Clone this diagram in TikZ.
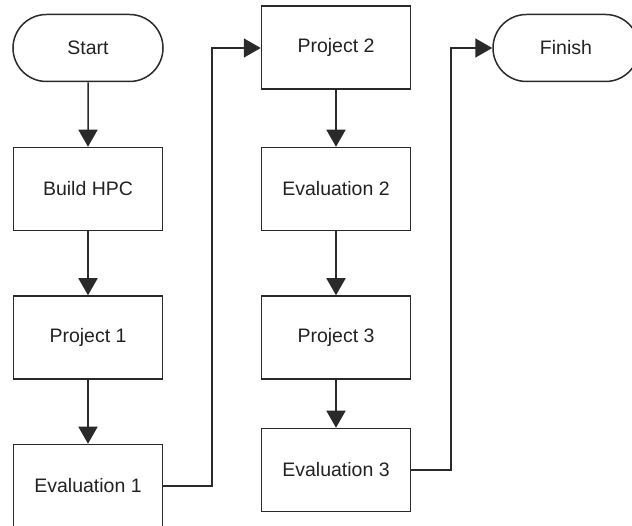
\documentclass[tikz,border=0pt]{standalone}
\usepackage{fontspec}
\setmainfont{Liberation Sans}
\usetikzlibrary{arrows.meta,shapes.misc}
\definecolor{ln}{HTML}{2A2A2A}
\definecolor{tx}{HTML}{222222}
\begin{document}
\begin{tikzpicture}[x=1pt,y=-1pt,
  box/.style={draw=ln,line width=1.5pt,minimum width=149pt,minimum height=83pt,inner sep=0pt,font=\fontsize{19.5}{21}\selectfont,text=tx},
  term/.style={draw=ln,line width=1.5pt,rounded rectangle,minimum width=150pt,minimum height=67pt,inner sep=0pt,font=\fontsize{19.5}{21}\selectfont,text=tx},
  conn/.style={draw=ln,line width=1.5pt,-{Triangle[width=19pt,length=17pt]}}]
\useasboundingbox (0,0) rectangle (632,526);
\fill[white] (0,0) rectangle (632,526);
\node[term] (start) at (88,48) {Start};
\node[box] (build) at (88,189) {Build HPC};
\node[box] (p1) at (88,337.5) {Project 1};
\node[box] (e1) at (88,486) {Evaluation 1};
\node[box] (p2) at (336,47.5) {Project 2};
\node[box] (e2) at (336,189) {Evaluation 2};
\node[box] (p3) at (336,337.5) {Project 3};
\node[box] (e3) at (336,470) {Evaluation 3};
\node[term,minimum width=146pt] (fin) at (566,48) {Finish};
\coordinate (c1a) at (212,486);
\coordinate (c1b) at (212,48);
\coordinate (c2a) at (451,470);
\coordinate (c2b) at (451,48);
\draw[conn] (start) -- (build);
\draw[conn] (build) -- (p1);
\draw[conn] (p1) -- (e1);
\draw[conn] (e1.east) -- (c1a) -- (c1b) -- (p2.west |- c1b);
\draw[conn] (p2) -- (e2);
\draw[conn] (e2) -- (p3);
\draw[conn] (p3) -- (e3);
\draw[conn] (e3.east) -- (c2a) -- (c2b) -- (fin.west);
\end{tikzpicture}
\end{document}
